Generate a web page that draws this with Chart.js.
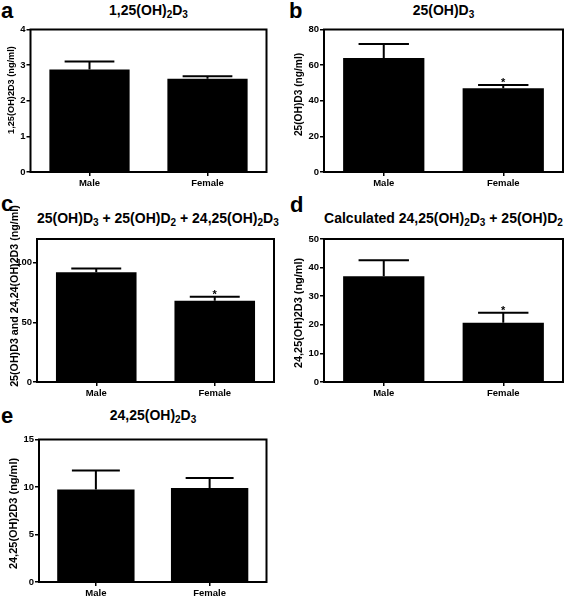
<!DOCTYPE html>
<html>
<head>
<meta charset="utf-8">
<script src="https://cdn.jsdelivr.net/npm/chart.js@4.4.0/dist/chart.umd.min.js"></script>
<style>
  body { margin: 0; background: #fff; width: 567px; height: 598px; position: relative; overflow: hidden; font-family: "Liberation Sans", Arial, sans-serif; }
  canvas { position: absolute; }
  .letter { position: absolute; font-weight: bold; font-size: 22px; line-height: 22px; }
  .title { position: absolute; font-weight: bold; font-size: 14px; line-height: 16px; text-align: center; white-space: nowrap; }
  .title sub { font-size: 10px; line-height: 0; vertical-align: -3px; }
</style>
</head>
<body>
<div class="letter" style="left:1px;top:0px">a</div>
<div class="letter" style="left:289px;top:0px">b</div>
<div class="letter" style="left:1px;top:193px">c</div>
<div class="letter" style="left:290px;top:194px">d</div>
<div class="letter" style="left:1px;top:405px">e</div>

<div class="title" style="left:30px;width:237px;top:2px">1,25(OH)<sub>2</sub>D<sub>3</sub></div>
<div class="title" style="left:324px;width:239px;top:2px">25(OH)D<sub>3</sub></div>
<div class="title" style="left:37px;width:237px;top:210px">25(OH)D<sub>3</sub> + 25(OH)D<sub>2</sub> + 24,25(OH)<sub>2</sub>D<sub>3</sub></div>
<div class="title" style="left:324px;width:239px;top:210px">Calculated 24,25(OH)<sub>2</sub>D<sub>3</sub> + 25(OH)D<sub>2</sub></div>
<div class="title" style="left:39px;width:228px;top:407px">24,25(OH)<sub>2</sub>D<sub>3</sub></div>

<script>
const groups = ['Male', 'Female'];

// group means and error bars (SEM)
const d3_125 = [2.88, 2.62];
const d3_125Err = [0.22, 0.07];
const d3_25 = [64.0, 47.0];
const d3_25Err = [7.9, 1.9];
const totalSum = [92.1, 68.2];
const totalSumErr = [3.1, 3.3];
const calcSum = [37.0, 20.7];
const calcSumErr = [5.6, 3.5];
const d3_2425 = [9.75, 9.9];
const d3_2425Err = [2.0, 1.05];

// significance marks
const sigA = ['', ''];
const sigB = ['', '*'];
const sigC = ['', '*'];
const sigD = ['', '*'];
const sigE = ['', ''];

// y tick labels
const ticksA = [0, 1, 2, 3, 4];
const ticksB = [0, 20, 40, 60, 80];
const ticksC = [0, 50, 100];
const ticksD = [0, 10, 20, 30, 40, 50];
const ticksE = [0, 5, 10, 15];

const FONT = '"Liberation Sans", Arial, sans-serif';
Chart.defaults.font.family = FONT;
Chart.defaults.color = '#000';

// frame round the plot, error bars, stars and the y title
const decor = {
    id: 'decor',
    afterDraw(chart, args, opts) {
        const ctx = chart.ctx;
        const ca = chart.chartArea;
        const ds = chart.data.datasets[0];
        const meta = chart.getDatasetMeta(0);
        const y = chart.scales.y;
        ctx.save();
        ctx.strokeStyle = '#000';
        ctx.fillStyle = '#000';
        ctx.lineWidth = 2;
        meta.data.forEach((bar, i) => {
            const top = y.getPixelForValue(ds.data[i] + ds.errors[i]);
            const half = bar.width * 0.31;
            ctx.beginPath();
            ctx.moveTo(bar.x, bar.y);
            ctx.lineTo(bar.x, top);
            ctx.moveTo(bar.x - half, top);
            ctx.lineTo(bar.x + half, top);
            ctx.stroke();
            if (ds.sig[i]) {
                ctx.font = 'bold 11px ' + FONT;
                ctx.textAlign = 'center';
                ctx.textBaseline = 'alphabetic';
                ctx.fillText(ds.sig[i], bar.x, top + 1);
            }
        });
        ctx.strokeRect(ca.left, ca.top, ca.right - ca.left, ca.bottom - ca.top);

        // y axis title
        ctx.translate(opts.x, opts.y);
        ctx.rotate(-Math.PI / 2);
        ctx.font = 'bold ' + opts.size + 'px ' + FONT;
        ctx.textAlign = 'center';
        ctx.textBaseline = 'middle';
        ctx.fillText(opts.text, 0, 0);
        ctx.restore();
    }
};

function makeChart(mean, err, sig, ticks, max, yTitle, canvasBox, plotBox, titlePos) {
    const [cx, cy, cw, ch] = canvasBox;
    const [l, t, r, b] = plotBox;
    const canvas = document.createElement('canvas');
    canvas.width = cw;
    canvas.height = ch;
    canvas.style.left = cx + 'px';
    canvas.style.top = cy + 'px';
    document.body.appendChild(canvas);

    return new Chart(canvas, {
        type: 'bar',
        data: {
            labels: groups,
            datasets: [{
                data: mean,
                errors: err,
                sig: sig,
                backgroundColor: '#000',
                borderWidth: 0,
                categoryPercentage: 1,
                barPercentage: 0.68
            }]
        },
        options: {
            responsive: false,
            animation: false,
            layout: { padding: { left: 0, top: t - cy, right: cx + cw - r, bottom: 0 } },
            plugins: {
                legend: { display: false },
                tooltip: { enabled: false },
                decor: { text: yTitle, x: titlePos[0] - cx, y: titlePos[1] - cy, size: titlePos[2] }
            },
            scales: {
                x: {
                    grid: { offset: false, drawOnChartArea: false, tickLength: 4, color: '#000', lineWidth: 1.5 },
                    border: { display: false },
                    ticks: { font: { size: 9.5, weight: 'bold' }, padding: 2 },
                    afterFit: s => { s.height = cy + ch - b; }
                },
                y: {
                    min: 0,
                    max: max,
                    afterBuildTicks: s => { s.ticks = ticks.map(v => ({ value: v })); },
                    grid: { drawOnChartArea: false, tickLength: 4, color: '#000', lineWidth: 1.5 },
                    border: { display: false },
                    ticks: { font: { size: 9.5, weight: 'bold' }, padding: 1 },
                    afterFit: s => { s.width = l - cx; }
                }
            }
        },
        plugins: [decor]
    });
}

makeChart(d3_125, d3_125Err, sigA, ticksA, 4, '1,25(OH)2D3 (ng/ml)', [0, 20, 272, 175], [30.5, 29.5, 266.5, 172], [11, 90, 9.2]);
makeChart(d3_25, d3_25Err, sigB, ticksB, 80, '25(OH)D3 (ng/ml)', [285, 20, 282, 175], [324, 29.5, 563, 172], [299.5, 94.5, 10.2]);
makeChart(totalSum, totalSumErr, sigC, ticksC, 120, '25(OH)D3 and 24,24(OH)2D3 (ng/ml)', [0, 200, 280, 205], [37, 239, 274, 382], [15, 296, 10.7]);
makeChart(calcSum, calcSumErr, sigD, ticksD, 50, '24,25(OH)2D3 (ng/ml)', [285, 200, 282, 200], [324, 239, 563, 382], [299, 313, 10.9]);
makeChart(d3_2425, d3_2425Err, sigE, ticksE, 15, '24,25(OH)2D3 (ng/ml)', [0, 420, 272, 178], [39, 439.5, 266.5, 582], [13.5, 513.5, 11]);
</script>
</body>
</html>
